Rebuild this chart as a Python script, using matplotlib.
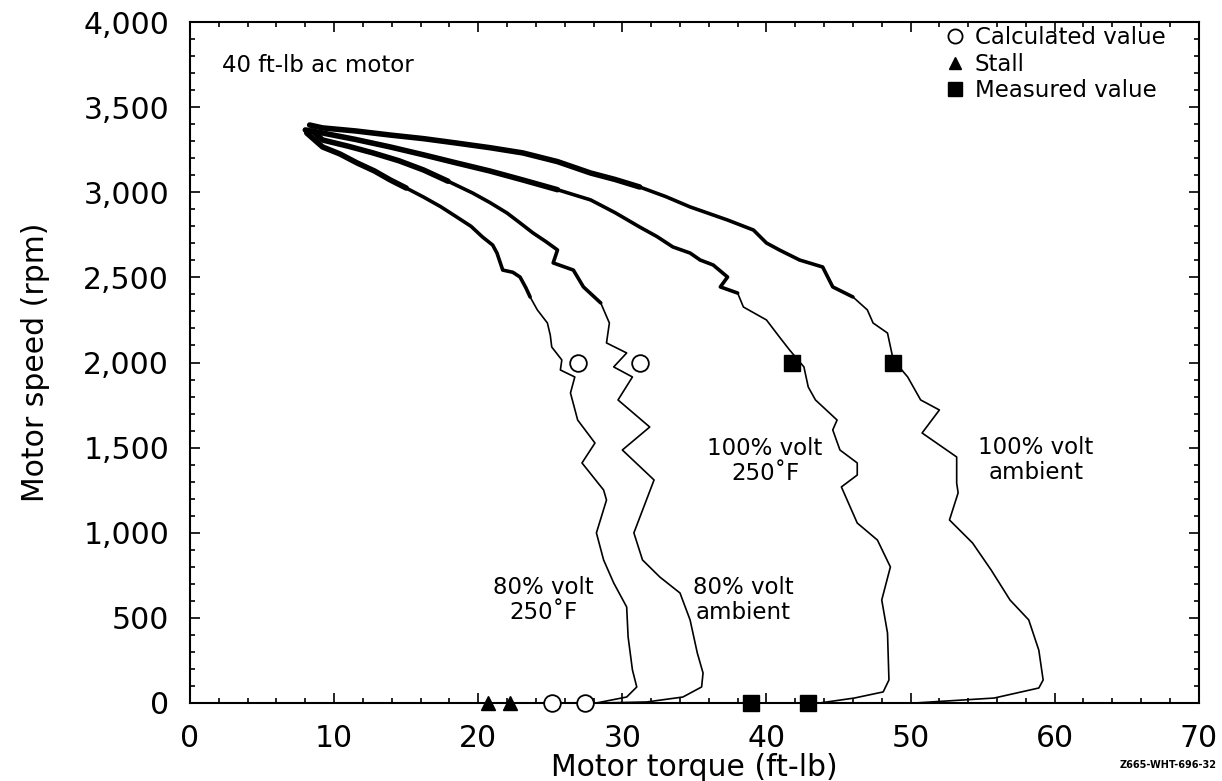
import matplotlib
matplotlib.use("Agg")
import matplotlib.pyplot as plt
from matplotlib.ticker import MultipleLocator, FuncFormatter

plt.rcParams['font.family'] = ['DejaVu Sans']

# ---- data (torque ft-lb, speed rpm) ----
a_torque = [8.1, 9.2, 10.4, 11.6, 12.8, 13.9, 15.0, 16.2, 17.4, 18.5, 19.5, 20.3, 21.0, 21.3,
            21.7, 22.4, 22.9, 23.3, 23.6, 24.1, 24.8, 25.0, 25.1, 25.8, 25.7, 26.7, 26.4, 26.9,
            28.1, 27.2, 28.7, 28.9, 28.2, 28.7, 29.4, 30.3, 30.4, 30.7, 31.0, 30.3, 28.2]
a_speed = [3348, 3266, 3225, 3172, 3125, 3072, 3025, 2972, 2915, 2855, 2800, 2737, 2690, 2643,
           2543, 2530, 2502, 2440, 2385, 2309, 2232, 2160, 2091, 2015, 1956, 1915, 1821, 1662,
           1527, 1410, 1251, 1192, 999, 840, 705, 564, 388, 194, 94, 35, 0]

b_torque = [8.5, 9.2, 11.0, 12.7, 14.5, 16.2, 17.9, 19.6, 20.8, 22.0, 22.9, 23.8, 24.7, 25.5,
            25.2, 26.6, 27.3, 28.5, 29.1, 28.9, 30.3, 29.4, 30.7, 29.7, 31.9, 30.0, 32.2, 30.8,
            31.4, 32.6, 34.0, 34.7, 35.2, 35.6, 35.5, 34.2, 31.7, 28.5]
b_speed = [3360, 3307, 3270, 3231, 3185, 3131, 3065, 2996, 2940, 2878, 2820, 2761, 2710, 2661,
           2585, 2543, 2444, 2350, 2232, 2115, 2056, 1974, 1915, 1780, 1621, 1486, 1310, 999,
           840, 740, 646, 488, 294, 176, 94, 35, 6, 0]

c_torque = [8.0, 9.2, 11.5, 13.9, 16.2, 18.5, 20.8, 23.1, 25.5, 27.8, 29.5, 31.2, 32.4, 33.5,
            34.7, 35.4, 36.3, 37.3, 36.8, 38.0, 38.4, 40.0, 40.9, 41.6, 42.6, 42.9, 43.4, 44.9,
            44.6, 45.1, 46.3, 46.3, 45.2, 46.3, 47.7, 48.6, 48.0, 48.4, 48.5, 48.1, 46.1, 43.7]
c_speed = [3366, 3348, 3310, 3266, 3220, 3172, 3125, 3072, 3015, 2955, 2880, 2796, 2740, 2679,
           2643, 2602, 2573, 2502, 2444, 2408, 2326, 2250, 2150, 2074, 1974, 1856, 1780, 1662,
           1604, 1486, 1410, 1339, 1269, 1057, 957, 799, 605, 411, 135, 65, 29, 0]

d_torque = [8.3, 9.2, 11.5, 13.9, 16.2, 18.5, 20.8, 23.1, 25.5, 27.8, 29.5, 31.2, 33.0, 34.7,
            37.3, 39.1, 40.0, 40.9, 42.3, 43.9, 44.6, 46.0, 47.0, 47.4, 48.4, 48.8, 49.8, 50.7,
            52.0, 50.8, 53.2, 53.2, 53.3, 52.7, 54.3, 55.6, 56.9, 58.2, 58.9, 59.2, 58.9, 55.8,
            50.3]
d_speed = [3395, 3378, 3360, 3336, 3315, 3289, 3262, 3231, 3180, 3113, 3075, 3031, 2975, 2914,
           2837, 2778, 2702, 2661, 2602, 2561, 2444, 2385, 2309, 2232, 2173, 2015, 1915, 1780,
           1721, 1586, 1445, 1292, 1234, 1075, 940, 780, 605, 488, 310, 135, 88, 29, 0]

calc_torque = [26.9, 31.2, 25.1, 27.4]
calc_speed = [2000, 2000, 0, 0]
stall_torque = [20.7, 22.2]
stall_speed = [0, 0]
meas_torque = [41.8, 48.8, 38.9, 42.9]
meas_speed = [2000, 2000, 0, 0]

curve_labels = ["80% volt\n250˚F", "80% volt\nambient", "100% volt\n250˚F", "100% volt\nambient"]
label_x = [24.5, 38.4, 39.9, 58.7]
label_y = [605, 605, 1421, 1427]

x_ticks = [0, 10, 20, 30, 40, 50, 60, 70]
y_ticks = [0, 500, 1000, 1500, 2000, 2500, 3000, 3500, 4000]

# ---- figure ----
fig = plt.figure(figsize=(12.22, 7.81), dpi=100)
ax = fig.add_axes([0.1555, 0.0999, 0.8255, 0.8719])

curves = [(a_torque, a_speed), (b_torque, b_speed), (c_torque, c_speed), (d_torque, d_speed)]
for tx, sp in curves:
    ax.plot(tx, sp, color='black', lw=1.2, solid_joinstyle='round', zorder=2)
    # the noisy upper part of each trace reads as a thicker band
    up = [i for i, s in enumerate(sp) if s >= 2350]
    ax.plot([tx[i] for i in up], [sp[i] for i in up], color='black', lw=2.6,
            solid_joinstyle='round', solid_capstyle='round', zorder=2)
    top = [i for i, s in enumerate(sp) if s >= 3000]
    ax.plot([tx[i] for i in top], [sp[i] for i in top], color='black', lw=4.0,
            solid_joinstyle='round', solid_capstyle='round', zorder=2)

ax.plot(calc_torque, calc_speed, linestyle='none', marker='o', ms=12, mfc='white',
        mec='black', mew=1.3, clip_on=False, zorder=4, label='Calculated value')
ax.plot(stall_torque, stall_speed, linestyle='none', marker='^', ms=10, color='black',
        clip_on=False, zorder=4, label='Stall')
ax.plot(meas_torque, meas_speed, linestyle='none', marker='s', ms=12, color='black',
        clip_on=False, zorder=4, label='Measured value')

for lab, lx, ly in zip(curve_labels, label_x, label_y):
    ax.text(lx, ly, lab, ha='center', va='center', fontsize=16.5, linespacing=1.15)

ax.text(2.2, 3706, "40 ft-lb ac motor", ha='left', va='baseline', fontsize=16.5)

ax.set_xlim(0, 70)
ax.set_ylim(0, 4000)
ax.set_xticks(x_ticks)
ax.set_yticks(y_ticks)
ax.xaxis.set_minor_locator(MultipleLocator(2))
ax.yaxis.set_minor_locator(MultipleLocator(100))
ax.yaxis.set_major_formatter(FuncFormatter(lambda v, p: f"{int(v):,}"))
ax.tick_params(which='both', direction='in', top=True, right=True, width=1.2, labelsize=21.5)
ax.tick_params(which='major', length=7.5, pad=15)
ax.tick_params(which='minor', length=3.8)
for s in ax.spines.values():
    s.set_linewidth(1.5)

ax.set_xlabel("Motor torque (ft-lb)", fontsize=21.5, labelpad=0)
ax.set_ylabel("Motor speed (rpm)", fontsize=21.5, labelpad=24)

ax.legend(loc='upper left', bbox_to_anchor=(0.747, 0.997), frameon=False, fontsize=16.5,
          borderpad=0.1, handlelength=0.8, handletextpad=0.45, labelspacing=0.14,
          markerscale=0.85, borderaxespad=0)

fig.text(0.996, 0.02, "Z665-WHT-696-32", ha='right', va='center', fontsize=7,
         fontweight='bold')

fig.savefig("out.png", dpi=100)
